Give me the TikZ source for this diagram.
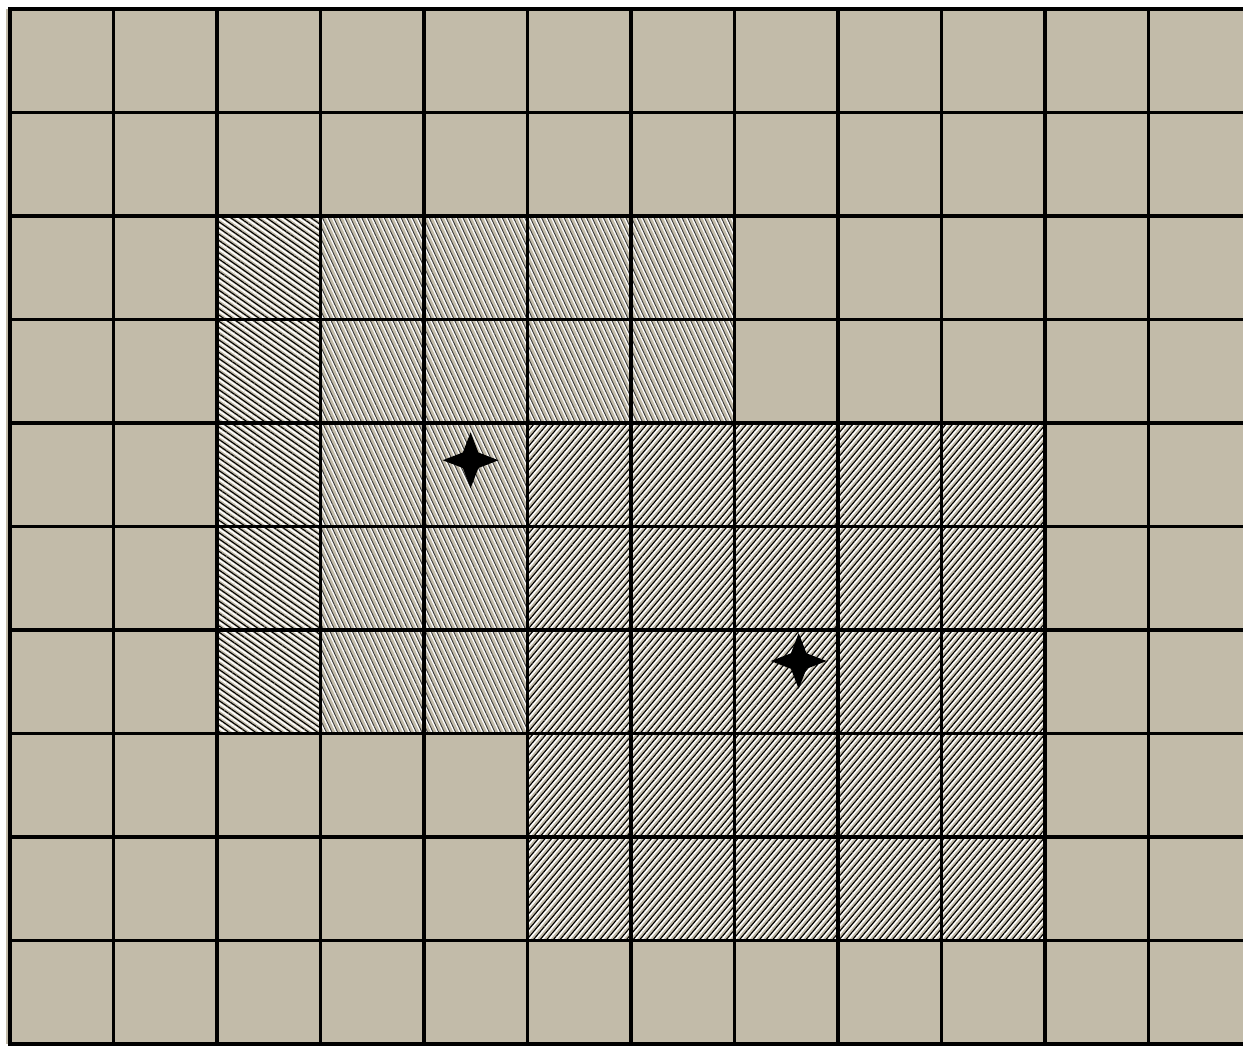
\documentclass[tikz,border=0pt]{standalone}
\usepackage{tikz}
\usetikzlibrary{patterns.meta}

\definecolor{sand}{HTML}{C2BBA9}
\definecolor{darkgrey}{HTML}{3A3A3A}

\begin{document}
\begin{tikzpicture}[
    x=2cm, y=-2cm,
    gridline/.style={draw=black, line width=1.7pt, line cap=rect},
    hatchlight/.style={pattern={Lines[angle=#1, distance=2.8pt, line width=0.9pt]}, pattern color=white},
    hatchdark/.style={pattern={Lines[angle=#1, distance=2.8pt, yshift=1.4pt, line width=0.6pt]}, pattern color=black},
    hatchgrey/.style={pattern={Lines[angle=#1, distance=2.8pt, yshift=1.4pt, line width=0.5pt]}, pattern color=darkgrey},
    sparkle/.pic={
        \fill[black] (0,-0.27) -- (0.075,-0.075) -- (0.27,0) -- (0.075,0.075)
            -- (0,0.27) -- (-0.075,0.075) -- (-0.27,0) -- (-0.075,-0.075) -- cycle;
    }
]
\useasboundingbox (-0.097,-0.087) rectangle (11.913,10.03);

% background field
\fill[sand] (-0.039,0) rectangle (11.913,10);

% left block, first column
\path[hatchlight=-35] (2,2) rectangle (3,7);
\path[hatchdark=-35] (2,2) rectangle (3,7);

% left block, the rest
\path[hatchlight=-65] (3,2) -- (7,2) -- (7,4) -- (5,4) -- (5,7) -- (3,7) -- cycle;
\path[hatchgrey=-65] (3,2) -- (7,2) -- (7,4) -- (5,4) -- (5,7) -- (3,7) -- cycle;

% right block
\path[hatchlight=50] (5,4) rectangle (10,9);
\path[hatchdark=50] (5,4) rectangle (10,9);

% grid
\foreach \i in {0,...,11}
    \draw[gridline] (\i,0) -- (\i,10);
\foreach \j in {0,...,10}
    \draw[gridline] (0,\j) -- (11.913,\j);

% centres
\pic at (4.45,4.36) {sparkle};
\pic at (7.62,6.30) {sparkle};

\end{tikzpicture}
\end{document}
